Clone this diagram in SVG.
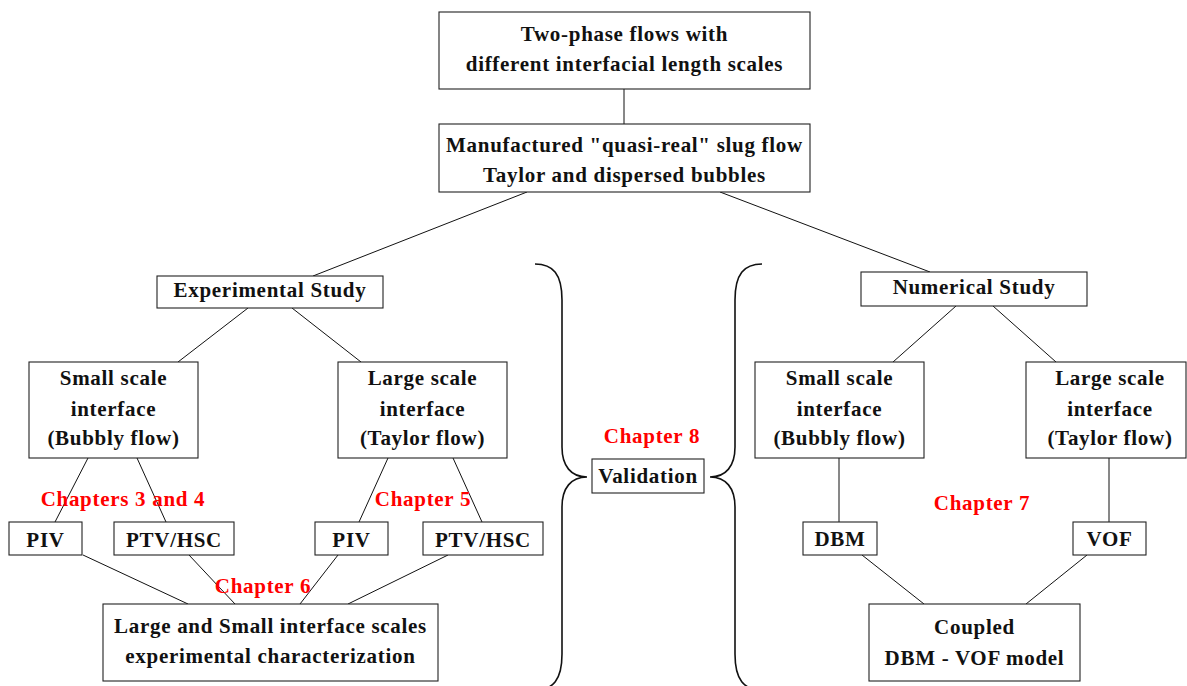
<svg xmlns="http://www.w3.org/2000/svg" width="1187" height="686" viewBox="0 0 1187 686">
<style>
.box{fill:#fff;stroke:#222;stroke-width:1.1}
.t{font-family:"Liberation Serif","DejaVu Serif",serif;font-weight:bold;font-size:21px;letter-spacing:0.7px;fill:#111;text-anchor:middle}
.r{font-family:"Liberation Serif","DejaVu Serif",serif;font-weight:bold;font-size:21px;letter-spacing:0.7px;fill:#ff0000;text-anchor:middle}
.c{stroke:#111;stroke-width:1;fill:none}
.brace{stroke:#111;stroke-width:1.6;fill:none}
</style>
<rect width="1187" height="686" fill="#fff"/>
<g id="connectors">
<line class="c" x1="624" y1="89" x2="624" y2="124"/>
<line class="c" x1="527" y1="192" x2="313" y2="276"/>
<line class="c" x1="720" y1="192" x2="930" y2="272"/>
<line class="c" x1="248" y1="308" x2="178" y2="362"/>
<line class="c" x1="292" y1="308" x2="361" y2="362"/>
<line class="c" x1="88" y1="458" x2="55" y2="522"/>
<line class="c" x1="137" y1="458" x2="166" y2="522"/>
<line class="c" x1="388" y1="458" x2="359" y2="522"/>
<line class="c" x1="453" y1="458" x2="482" y2="522"/>
<line class="c" x1="83" y1="555" x2="188" y2="604"/>
<line class="c" x1="189" y1="555" x2="235" y2="604"/>
<line class="c" x1="338" y1="555" x2="300" y2="604"/>
<line class="c" x1="448" y1="555" x2="348" y2="604"/>
<line class="c" x1="956" y1="306" x2="893" y2="362"/>
<line class="c" x1="993" y1="306" x2="1056" y2="362"/>
<line class="c" x1="839" y1="458" x2="839" y2="522"/>
<line class="c" x1="1109" y1="458" x2="1109" y2="522"/>
<line class="c" x1="862" y1="555" x2="924" y2="604"/>
<line class="c" x1="1087" y1="555" x2="1026" y2="604"/>
<path class="brace" d="M535,264 C553,264 562,274 562,300 L562,447 C562,466 571,477 587,477 C571,477 562,488 562,507 L562,654 C562,680 553,690 535,690"/>
<path class="brace" d="M762,264 C744,264 735,274 735,300 L735,447 C735,466 726,477 710,477 C726,477 735,488 735,507 L735,654 C735,680 744,690 762,690"/>
</g>
<g id="n-top"><rect class="box" x="439" y="12" width="371" height="77"/><text class="t" x="624.5" y="41">Two-phase flows with</text><text class="t" x="624.5" y="71">different interfacial length scales</text></g>
<g id="n-slug"><rect class="box" x="439" y="124" width="371" height="68"/><text class="t" x="624.5" y="152">Manufactured "quasi-real" slug flow</text><text class="t" x="624.5" y="182">Taylor and dispersed bubbles</text></g>
<g id="n-exp"><rect class="box" x="157" y="276" width="226" height="32"/><text class="t" x="270" y="297">Experimental Study</text></g>
<g id="n-num"><rect class="box" x="861" y="272" width="226" height="34"/><text class="t" x="974" y="294">Numerical Study</text></g>
<g id="n-exp-small"><rect class="box" x="29" y="362" width="169" height="96"/><text class="t" x="113.5" y="385">Small scale</text><text class="t" x="113.5" y="416">interface</text><text class="t" x="113.5" y="445">(Bubbly flow)</text></g>
<g id="n-exp-large"><rect class="box" x="338" y="362" width="169" height="96"/><text class="t" x="422.5" y="385">Large scale</text><text class="t" x="422.5" y="416">interface</text><text class="t" x="422.5" y="445">(Taylor flow)</text></g>
<g id="n-num-small"><rect class="box" x="755" y="362" width="169" height="96"/><text class="t" x="839.5" y="385">Small scale</text><text class="t" x="839.5" y="416">interface</text><text class="t" x="839.5" y="445">(Bubbly flow)</text></g>
<g id="n-num-large"><rect class="box" x="1026" y="362" width="160" height="96"/><text class="t" x="1110" y="385">Large scale</text><text class="t" x="1110" y="416">interface</text><text class="t" x="1110" y="445">(Taylor flow)</text></g>
<g id="n-piv1"><rect class="box" x="9" y="522" width="73" height="33"/><text class="t" x="45.5" y="547">PIV</text></g>
<g id="n-ptv1"><rect class="box" x="114" y="522" width="120" height="33"/><text class="t" x="174" y="547">PTV/HSC</text></g>
<g id="n-piv2"><rect class="box" x="315" y="522" width="73" height="33"/><text class="t" x="351.5" y="547">PIV</text></g>
<g id="n-ptv2"><rect class="box" x="423" y="522" width="120" height="33"/><text class="t" x="483" y="547">PTV/HSC</text></g>
<g id="n-dbm"><rect class="box" x="803" y="522" width="74" height="33"/><text class="t" x="840" y="546">DBM</text></g>
<g id="n-vof"><rect class="box" x="1073" y="522" width="73" height="33"/><text class="t" x="1109.5" y="546">VOF</text></g>
<g id="n-exp-char"><rect class="box" x="103" y="604" width="335" height="77"/><text class="t" x="270.5" y="633">Large and Small interface scales</text><text class="t" x="270.5" y="663">experimental characterization</text></g>
<g id="n-coupled"><rect class="box" x="869" y="604" width="211" height="77"/><text class="t" x="974.5" y="634">Coupled</text><text class="t" x="974.5" y="665">DBM - VOF model</text></g>
<g id="n-valid"><rect class="box" x="592" y="459" width="112" height="34"/><text class="t" x="648" y="483">Validation</text></g>
<g id="labels">
<text class="r" x="123" y="506">Chapters 3 and 4</text>
<text class="r" x="423" y="506">Chapter 5</text>
<text class="r" x="263" y="593">Chapter 6</text>
<text class="r" x="982" y="510">Chapter 7</text>
<text class="r" x="652" y="443">Chapter 8</text>
</g>
</svg>
